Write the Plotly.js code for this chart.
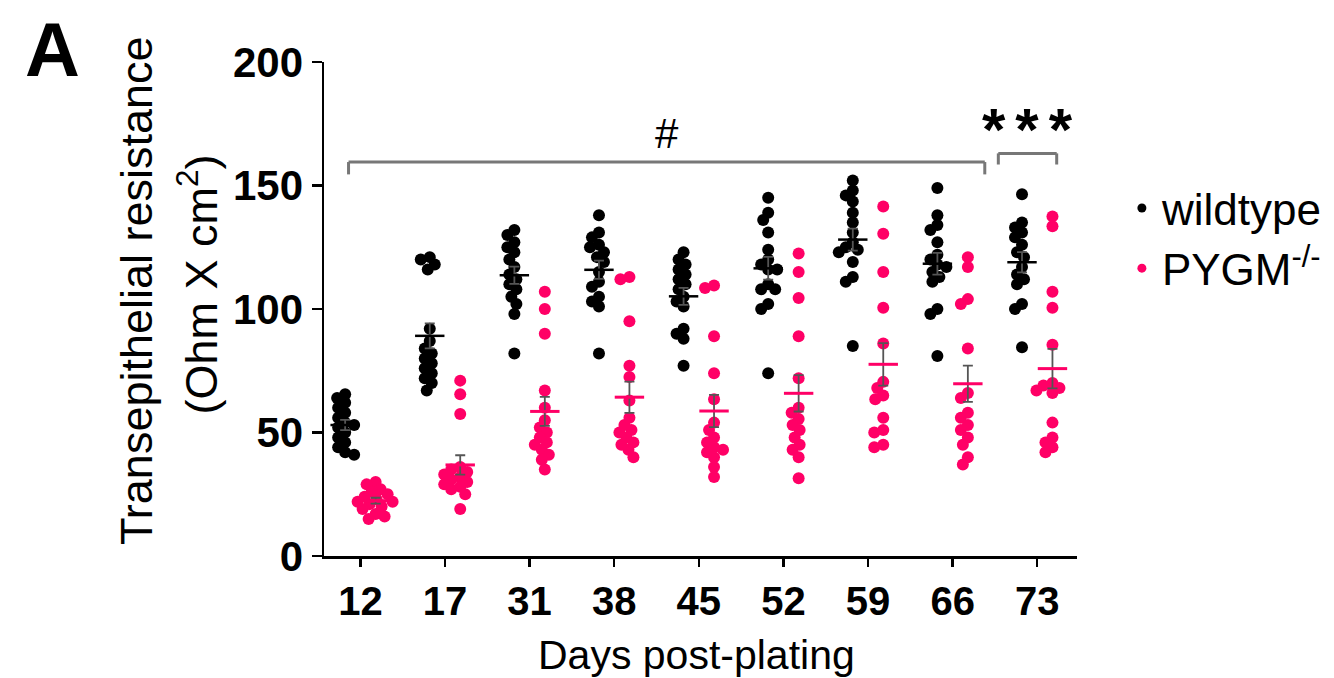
<!DOCTYPE html>
<html>
<head>
<meta charset="utf-8">
<script src="https://cdn.plot.ly/plotly-3.0.1.min.js"></script>
<style>html,body{margin:0;padding:0;background:#fff;}#chart{width:1334px;height:678px;}</style>
</head>
<body>
<div id="chart"></div>
<script>
// ---- data ----
const days = ['12', '17', '31', '38', '45', '52', '59', '66', '73'];
const seriesNames = ['wildtype', 'PYGM<sup>-/-</sup>'];
const wildtypeValues = [
  [65.5, 64, 62, 60, 58, 56, 54, 53, 52, 50, 48, 46, 44, 42, 41],
  [121, 120, 118, 116, 92, 87, 84, 82, 80, 78, 76, 74, 72, 70, 67],
  [132, 130, 127, 125, 123, 120, 117, 114, 112, 110, 108, 105, 102, 98, 82],
  [138, 131, 129, 126, 125, 123, 121, 119, 115, 111, 109, 105, 103, 101, 82],
  [123, 120, 118, 116, 114, 112, 110, 108, 105, 103, 101, 92, 90, 88, 77],
  [145, 139, 136, 131, 124, 120, 118, 116, 116, 110, 108, 108, 102, 100, 74],
  [152, 148, 146, 143.5, 139, 135, 131, 127, 125, 124, 123, 119, 113, 111, 85],
  [149, 138, 134, 132, 127, 122, 120, 118, 117, 115, 113, 111, 100, 98, 81],
  [146.5, 135, 133, 131, 129, 126, 123, 121, 117, 114, 112, 110, 102, 100, 84.5]
];
const pygmValues = [
  [30, 29, 27, 26, 25, 24, 23, 22, 22, 21, 20, 19, 17, 16, 15],
  [71, 65.5, 57.5, 36, 35, 34, 33, 32, 31, 30, 29, 28, 27, 25, 19],
  [107, 100, 90, 67, 60, 55, 52, 50, 48, 46, 45, 43, 41, 39, 35],
  [113, 112, 95, 77, 72.5, 63, 56, 53, 51, 50, 48, 46, 45, 43, 40],
  [109.5, 108.5, 89, 74, 63.5, 54, 51, 48, 46, 44, 43, 42, 40, 36, 32],
  [122.5, 115, 104.5, 89, 72, 60, 58, 55.5, 53, 51, 48, 45, 43, 40, 31.5],
  [141.5, 130.5, 115, 100.5, 86, 70.5, 68, 65, 63.5, 56, 51, 50, 45, 44],
  [121, 117, 104, 102, 84, 66, 64, 58, 56, 53, 51, 48, 45, 40, 37],
  [137.5, 133.5, 107, 100.5, 85.5, 70, 69, 68, 67, 66, 54, 48, 46, 44, 42]
];
const yTicks = [0, 50, 100, 150, 200];

// ---- styling ----
const FONT = 'Liberation Sans, Arial, sans-serif';
const BLACK = '#000000';
const PINK = '#ff0066';
const GROUP_OFFSET = [-0.18, 0.18];
const PX_PER_X = 84.6, PX_PER_Y = 2.47;

function swarm(vals) {
  // deterministic beeswarm offsets (in x units) computed from the values
  const order = vals.map((v, i) => i).sort((a, b) => vals[b] - vals[a]);
  const placed = [];
  const off = new Array(vals.length).fill(0);
  const minD = 8.5, step = 1;
  order.forEach(i => {
    const y = vals[i] * PX_PER_Y;
    let chosen = 0;
    for (let k = 0; k < 40; k++) {
      const cand = (k % 2 === 0 ? 1 : -1) * Math.ceil(k / 2) * step;
      const ok = placed.every(p => Math.hypot(p[0] - cand, p[1] - y) >= minD);
      if (ok) { chosen = cand; break; }
    }
    placed.push([chosen, y]);
    off[i] = chosen / PX_PER_X;
  });
  return off;
}
function meanSem(v) {
  const n = v.length, m = v.reduce((a, b) => a + b, 0) / n;
  const sd = Math.sqrt(v.reduce((a, b) => a + (b - m) * (b - m), 0) / (n - 1));
  return [m, sd / Math.sqrt(n)];
}

const traces = [];
[wildtypeValues, pygmValues].forEach((series, s) => {
  const color = s === 0 ? BLACK : PINK;
  const xs = [], ys = [], mx = [], my = [], se = [];
  series.forEach((vals, g) => {
    const off = swarm(vals);
    vals.forEach((v, i) => { xs.push(g + GROUP_OFFSET[s] + off[i]); ys.push(v); });
    const [m, e] = meanSem(vals);
    mx.push(g + GROUP_OFFSET[s]); my.push(m); se.push(e);
  });
  traces.push({
    type: 'scatter', mode: 'markers', x: xs, y: ys, showlegend: false, hoverinfo: 'y',
    marker: { color: color, size: 12, line: { width: 0 } }
  });
  traces.push({
    type: 'scatter', mode: 'markers', x: mx, y: my, showlegend: false,
    marker: { symbol: 'line-ew', size: 21, color: color, line: { color: color, width: s === 0 ? 2.5 : 3 } },
    error_y: { type: 'data', array: se, visible: true, color: '#555555', thickness: 1.8, width: 5 }
  });
});
// legend entries
[0, 1].forEach(s => {
  traces.push({
    type: 'scatter', mode: 'markers', x: [null], y: [null], name: seriesNames[s],
    marker: { color: s === 0 ? BLACK : PINK, size: 9 }
  });
});

const GREY = '#777777';
const shapes = [
  // long bracket (#)
  { type: 'line', xref: 'x', yref: 'y', x0: -0.14, x1: 7.38, y0: 159.5, y1: 159.5, line: { color: GREY, width: 3 } },
  { type: 'line', xref: 'x', yref: 'y', x0: -0.14, x1: -0.14, y0: 159.5, y1: 154.5, line: { color: GREY, width: 3 } },
  { type: 'line', xref: 'x', yref: 'y', x0: 7.38, x1: 7.38, y0: 159.5, y1: 154.5, line: { color: GREY, width: 3 } },
  // short bracket (***)
  { type: 'line', xref: 'x', yref: 'y', x0: 7.54, x1: 8.23, y0: 163, y1: 163, line: { color: GREY, width: 3 } },
  { type: 'line', xref: 'x', yref: 'y', x0: 7.54, x1: 7.54, y0: 163, y1: 158.5, line: { color: GREY, width: 3 } },
  { type: 'line', xref: 'x', yref: 'y', x0: 8.23, x1: 8.23, y0: 163, y1: 158.5, line: { color: GREY, width: 3 } }
];

const annotations = [
  { text: '#', xref: 'x', yref: 'y', x: 3.62, y: 171, xanchor: 'center', yanchor: 'middle', showarrow: false,
    font: { family: FONT, size: 42, color: '#000' } },
  { text: '<b>*&#8198;*&#8198;*</b>', xref: 'x', yref: 'y', x: 7.88, y: 172.5, xanchor: 'center', yanchor: 'middle', showarrow: false,
    font: { family: FONT, size: 60, color: '#000' } },
  { text: '<b>A</b>', xref: 'paper', yref: 'paper', x: -0.36, y: 1.025, xanchor: 'center', yanchor: 'middle', showarrow: false,
    font: { family: FONT, size: 76, color: '#000' } },
  { text: 'Transepithelial resistance', xref: 'paper', yref: 'paper', x: -0.25, y: 0.538, xanchor: 'center', yanchor: 'middle',
    textangle: -90, showarrow: false, font: { family: FONT, size: 45, color: '#000' } },
  { text: '(Ohm X cm<sup>2</sup>)', xref: 'paper', yref: 'paper', x: -0.167, y: 0.55, xanchor: 'center', yanchor: 'middle',
    textangle: -90, showarrow: false, font: { family: FONT, size: 45, color: '#000' } },
  { text: 'Days post-plating', xref: 'paper', yref: 'paper', x: 0.495, y: -0.2, xanchor: 'center', yanchor: 'middle', showarrow: false,
    font: { family: FONT, size: 41, color: '#000' } }
];

const layout = {
  width: 1334, height: 678,
  margin: { l: 324, r: 257, t: 62, b: 122, autoexpand: false },
  paper_bgcolor: '#fff', plot_bgcolor: '#fff',
  font: { family: FONT, color: '#000' },
  showlegend: true,
  legend: { xref: 'container', yref: 'container', x: 0.841, y: 0.745, xanchor: 'left', yanchor: 'top',
            font: { family: FONT, size: 44, color: '#000' },
            itemwidth: 30, tracegroupgap: 0, bgcolor: 'rgba(0,0,0,0)' },
  xaxis: {
    range: [-0.43, 8.47], tickmode: 'array', tickvals: days.map((d, i) => i), ticktext: days.map(d => '<b>' + d + '</b>'),
    showline: true, linecolor: '#000', linewidth: 2.5, ticks: 'outside', ticklen: 8, tickwidth: 2.5, tickcolor: '#000',
    showgrid: false, zeroline: false, tickfont: { family: FONT, size: 40, color: '#000' }, fixedrange: true
  },
  yaxis: {
    range: [0, 200], tickmode: 'array', tickvals: yTicks, ticktext: yTicks.map(t => '<b>' + t + '</b>'),
    showline: true, linecolor: '#000', linewidth: 2.5, ticks: 'outside', ticklen: 10, tickwidth: 2.5, tickcolor: '#000',
    showgrid: false, zeroline: false, tickfont: { family: FONT, size: 42, color: '#000' }, fixedrange: true
  },
  shapes: shapes,
  annotations: annotations
};

Plotly.newPlot('chart', traces, layout, { displayModeBar: false, staticPlot: true });
</script>
</body>
</html>
